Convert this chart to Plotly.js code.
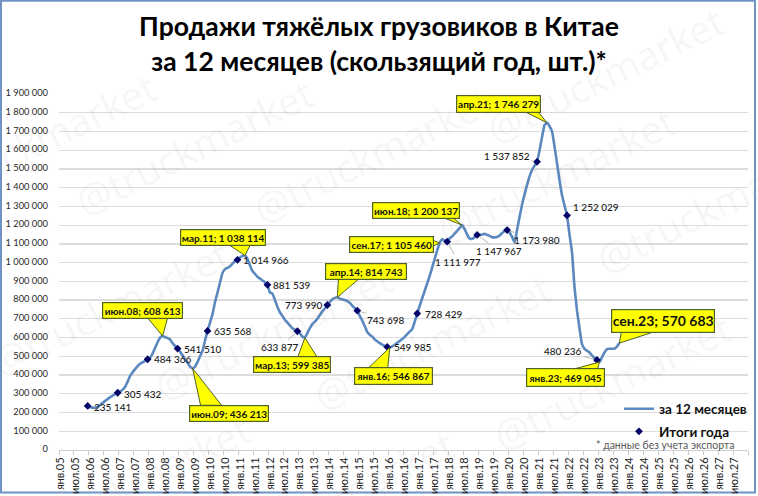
<!DOCTYPE html>
<html><head><meta charset="utf-8">
<script src="https://cdn.plot.ly/plotly-3.0.1.min.js"></script>
<style>html,body{margin:0;padding:0;background:#fff}#c{width:758px;height:496px}</style>
</head><body><div id="c"></div>
<script>
// ---------- data ----------
const monthNames = ["янв","фев","мар","апр","май","июн","июл","авг","сен","окт","ноя","дек"];
const years = ["05","06","07","08","09","10","11","12","13","14","15","16","17","18","19","20","21","22","23","24","25","26","27"];
const months = years.flatMap(y => monthNames.map(m => m + "." + y));
const shownTicks = years.flatMap(y => ["янв." + y, "июл." + y]);

const firstLineMonth = "дек.05";
const lineValues = [235141,
 228000,226000,226000,232000,240000,252000,262000,272000,282000,290000,298000,305432,
 312000,322000,338000,365000,395000,415000,432000,448000,460000,468000,476000,484366,
 492000,515000,545000,575000,600000,608613,602000,597000,590000,570000,555000,541510,
 525000,505000,485000,465000,445000,436213,445000,470000,500000,530000,585000,635568,
 680000,725000,790000,840000,895000,945000,965000,972000,980000,995000,1008000,1014966,
 1028000,1035000,1038114,1020000,985000,955000,940000,925000,915000,905000,895000,881539,
 840000,835000,800000,765000,735000,715000,695000,680000,665000,650000,642000,633877,
 622000,605000,599385,625000,650000,672000,685000,700000,720000,740000,755000,773990,
 790000,805000,812000,814743,808000,803000,800000,795000,785000,770000,757000,743698,
 715000,690000,660000,630000,615000,605000,590000,580000,570000,562000,555000,549985,
 546867,553000,562000,572000,582000,592000,604000,618000,632000,645000,685000,728429,
 770000,810000,850000,890000,930000,975000,1020000,1065000,1105460,1125000,1118000,1111977,
 1130000,1140000,1155000,1170000,1185000,1200137,1178000,1150000,1128000,1128000,1135000,1147967,
 1148000,1150000,1154000,1148000,1143000,1136000,1135000,1137000,1145000,1158000,1170000,1173980,
 1160000,1138000,1108000,1175000,1245000,1310000,1365000,1415000,1460000,1495000,1518000,1537852,
 1600000,1670000,1735000,1746279,1728000,1700000,1620000,1530000,1440000,1360000,1305000,1252029,
 1150000,1055000,870000,745000,650000,565000,540000,530000,520000,505000,492000,480236,
 469045,495000,520000,538000,540000,540000,541000,552000,570683];

const yearMonths = ["дек.05","дек.06","дек.07","дек.08","дек.09","дек.10","дек.11","дек.12","дек.13","дек.14","дек.15","дек.16","дек.17","дек.18","дек.19","дек.20","дек.21","дек.22"];
const yearValues = [235141,305432,484366,541510,635568,1014966,881539,633877,773990,743698,549985,728429,1111977,1147967,1173980,1537852,1252029,480236];

const calloutMonths = ["июн.08","июн.09","мар.11","мар.13","апр.14","янв.16","сен.17","июн.18","апр.21","янв.23","сен.23"];
const calloutValues = [608613,436213,1038114,599385,814743,546867,1105460,1200137,1746279,469045,570683];

// ---------- layout ----------
const W = 758, H = 496, L = 59, R = 748, T = 94.3, B = 450.5;
const FONT = "Lato, 'Noto Sans', sans-serif";
const fmt = v => String(v).replace(/\B(?=(\d{3})+$)/g, " ");
const px = x => (x - L) / (R - L), py = y => (B - y) / (B - T);

// box offset from tip (dx, dy), box size, pointer base (relative to tip, y up)
const calloutPos = [
 {dx:-20, dy:-25.5, w:77, h:13, base:[[-15,18],[5,18]]},
 {dx:36.5,dy:45.5, w:76, h:13, base:[[8,-37],[29,-37]]},
 {dx:-22, dy:-17.5, w:82, h:13, base:[[-15,10],[5,10]]},
 {dx:-13, dy:26.5, w:74, h:13, base:[[-7,-19],[12,-19]]},
 {dx:28.5,dy:-25.5, w:78, h:13, base:[[1,18],[21,18]]},
 {dx:3.5, dy:28, w:75, h:14, base:[[-21,-20],[-2,-20]]},
 {dx:-48.5,dy:1.5, w:81, h:13, base:[[-8,3],[-8,-4]]},
 {dx:-46.5,dy:-15, w:84, h:13, base:[[-20,8],[-10,8]]},
 {dx:-49, dy:-18.5, w:81, h:13.5, base:[[-22,11],[-9,11]]},
 {dx:-33.5,dy:15, w:75, h:15, base:[[-26,-7],[-2,-7]]},
 {dx:44, dy:-22.5, w:100, h:19.5, base:[[2,12],[37,12]], big:true}
];

const valueLabelPos = [
 {dx:25.3,dy:1},{dx:25.4,dy:1},{dx:25.3,dy:0},{dx:25,dy:0},{dx:25,dy:0},{dx:29,dy:0},{dx:25,dy:0},
 {dx:-17,dy:16,lead:1},{dx:-23,dy:0},{dx:29,dy:9,lead:1},{dx:25.5,dy:0},{dx:27,dy:0},
 {dx:11,dy:20,lead:1},{dx:22,dy:16,lead:1},{dx:30,dy:10,lead:1},{dx:-30,dy:-6,lead:1},{dx:29,dy:-8,lead:1},{dx:-33.5,dy:-9,lead:1}
];

const watermarks = [[37,141],[194,147],[372,155],[605,75],[715,205],[556,175],[110,308],[273,332],[432,342],[612,382],[131,483],[335,498]];

const annotations = [];
watermarks.forEach(p => annotations.push({
  xref:"paper", yref:"paper", x:px(p[0]), y:py(p[1]), xanchor:"center", yanchor:"middle", text:"@truckmarket", showarrow:false,
  textangle:-26, font:{family:"'Open Sans', sans-serif", size:39, color:"rgba(120,120,120,0.08)"}
}));

yearValues.forEach((v,i) => {
  const p = valueLabelPos[i];
  const base = {x:yearMonths[i], y:v, xref:"x", yref:"y", text:fmt(v),
    font:{family:FONT, size:10, color:"#1a1a1a", weight:500}};
  if (p.lead) annotations.push(Object.assign(base, {showarrow:true, arrowhead:0, arrowwidth:0.8,
    arrowcolor:"#a6a6a6", ax:p.dx, ay:p.dy, standoff:3}));
  else annotations.push(Object.assign(base, {showarrow:false, xanchor:"center", yanchor:"middle", xshift:p.dx, yshift:-p.dy}));
});

const shapes = [];
calloutValues.forEach((v,i) => {
  const c = calloutPos[i], m = calloutMonths[i];
  shapes.push({type:"path", xsizemode:"pixel", ysizemode:"pixel", xanchor:m, yanchor:v,
    xref:"x", yref:"y", layer:"above",
    path:`M 0 0 L ${c.base[0][0]} ${c.base[0][1]} L ${c.base[1][0]} ${c.base[1][1]} Z`,
    fillcolor:"#ffff00", line:{color:"#4f6228", width:1}});
  annotations.push({x:m, y:v, xref:"x", yref:"y", text:`<b>${m}; ${fmt(v)}</b>`,
    showarrow:true, arrowcolor:"rgba(0,0,0,0)", arrowwidth:0.1, arrowhead:0, ax:c.dx, ay:c.dy,
    width:c.w, height:c.h, bgcolor:"#ffff00", bordercolor:"#4f6228", borderwidth:1.2, borderpad:1,
    font:{family:FONT, size:c.big?14:10, color:"#111"}});
});

annotations.push({xref:"paper", yref:"paper", x:px(736), y:py(445), xanchor:"right", yanchor:"middle", showarrow:false,
  text:"* данные без учета экспорта", font:{family:FONT, size:10.5, color:"#595959"}});

// outer frame
shapes.push({type:"rect", xref:"paper", yref:"paper", x0:px(1), x1:px(755), y0:py(493), y1:py(1),
  layer:"below", line:{color:"#6f94c4", width:2}, fillcolor:"rgba(0,0,0,0)"});

const lineStart = months.indexOf(firstLineMonth);
const data = [
 {type:"scatter", mode:"lines", name:"<b>за 12 месяцев</b>", legendgroup:"a",
  x:months.slice(lineStart, lineStart + lineValues.length), y:lineValues,
  line:{color:"#5b88bf", width:2.6, shape:"spline", smoothing:0.35}, hoverinfo:"skip"},
 {type:"scatter", mode:"markers", name:"<b>Итоги года</b>", legendgroup:"b",
  x:yearMonths, y:yearValues,
  marker:{symbol:"diamond", size:6, color:"#000066"}, hoverinfo:"skip"},
 {type:"scatter", mode:"lines", x:[], y:[], xaxis:"x2", yaxis:"y", showlegend:false, hoverinfo:"skip"}
];

const layout = {
  width:W, height:H, margin:{l:L, r:W-R, t:T, b:H-B, pad:0, autoexpand:false},
  paper_bgcolor:"#fff", plot_bgcolor:"rgba(0,0,0,0)", separators:", ",
  font:{family:FONT, color:"#262626"},
  title:{text:"<b>Продажи тяжёлых грузовиков в Китае<br>за 12 месяцев (скользящий год, шт.)*</b>",
    x:0.5, xanchor:"center", xref:"container", y:0.927, yanchor:"top", yref:"container",
    font:{family:FONT, size:26.5, color:"#000"}},
  xaxis:{type:"category", categoryorder:"array", categoryarray:months, range:[-0.5,275.5],
    tickmode:"array", tickvals:shownTicks, ticktext:shownTicks, tickangle:-90, ticks:"",
    tickfont:{size:11, color:"#262626"}, ticklen:0, ticklabelstandoff:2, showgrid:false, showline:true, linecolor:"#d0d0d0", linewidth:1, zeroline:false, automargin:false},
  xaxis2:{overlaying:"x", anchor:"y", side:"bottom", type:"linear", range:[-0.5,275.5],
    tickmode:"linear", tick0:-0.5, dtick:6, ticks:"outside", ticklen:4, tickcolor:"#c8c8c8", tickwidth:1,
    showticklabels:false, showgrid:false, zeroline:false, showline:false},
  yaxis:{range:[0,1900000], tickmode:"linear", tick0:0, dtick:100000, tickformat:",d",
    tickfont:{size:9.3, color:"#262626"}, ticklabelstandoff:10, ticklabelshift:-1, gridcolor:"#dcdcdc", gridwidth:1.3, zeroline:false, showline:false, ticks:"", ticklen:0, automargin:false},
  showlegend:true,
  legend:{x:px(619), xanchor:"left", y:py(394), yanchor:"top", bgcolor:"rgba(0,0,0,0)",
    tracegroupgap:2, itemwidth:30, font:{family:FONT, size:13.5, color:"#111"}, itemclick:false, itemdoubleclick:false},
  annotations, shapes
};
Plotly.newPlot("c", data, layout, {displayModeBar:false, staticPlot:true});
</script></body></html>
